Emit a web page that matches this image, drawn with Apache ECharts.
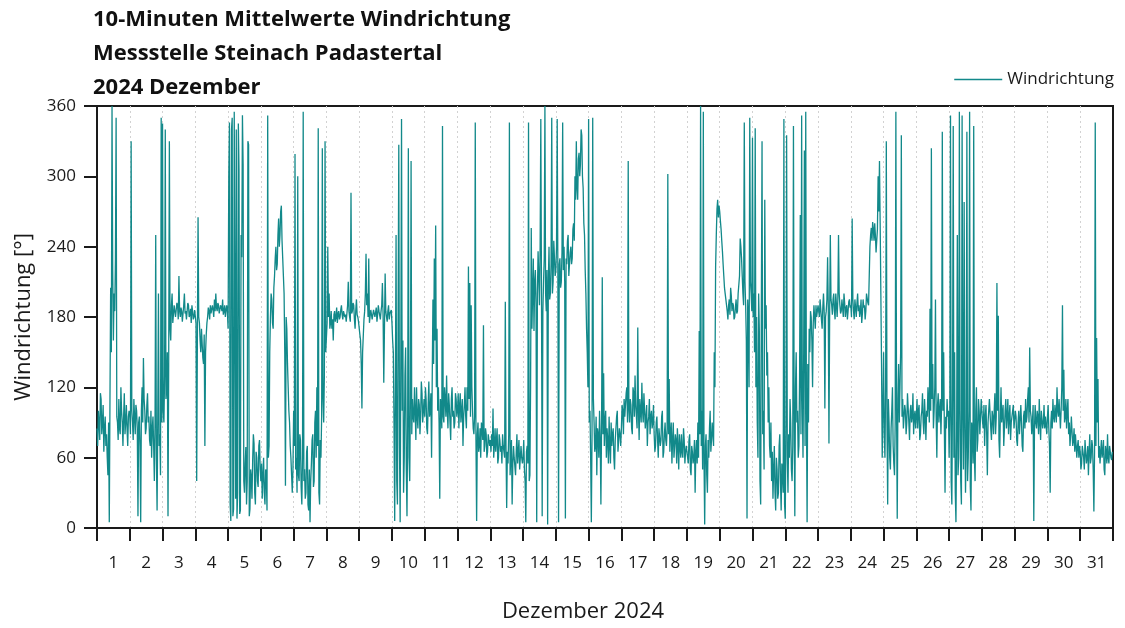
<!DOCTYPE html>
<html>
<head>
<meta charset="utf-8">
<script src="https://cdn.jsdelivr.net/npm/echarts@6/dist/echarts.min.js"></script>
<style>
  html, body { margin: 0; padding: 0; background: #fff; }
  #chart { width: 1125px; height: 628px; }
</style>
</head>
<body>
<div id="chart"></div>
<script>
// Tagesbeschriftungen der x-Achse
const dayLabels = ['1', '2', '3', '4', '5', '6', '7', '8', '9', '10', '11', '12', '13', '14', '15', '16',
  '17', '18', '19', '20', '21', '22', '23', '24', '25', '26', '27', '28', '29', '30', '31']
const yTicks = [0, 60, 120, 180, 240, 300, 360]

// Windrichtung [°], halbstündlich (je Tag 48 Werte)
const dec01 = [85, 70, 100, 90, 75, 115, 110, 80, 90, 105, 65, 85, 95, 70, 80, 60, 45, 90, 5, 110, 205, 150, 360, 220, 160, 200, 185, 230, 350, 95, 90, 75, 110, 85, 80, 120, 100, 90, 70, 95, 115, 80, 90, 105, 85, 70, 95, 100]
const dec02 = [95, 80, 330, 100, 90, 75, 110, 95, 80, 105, 100, 85, 10, 90, 95, 70, 5, 100, 120, 90, 145, 110, 100, 80, 85, 105, 115, 90, 95, 75, 70, 100, 60, 85, 95, 70, 40, 90, 250, 60, 15, 95, 200, 70, 80, 45, 350, 90]
const dec03 = [345, 100, 90, 130, 340, 110, 120, 150, 10, 140, 330, 170, 160, 190, 200, 175, 175, 190, 185, 180, 180, 192, 190, 178, 215, 185, 180, 188, 185, 176, 175, 190, 200, 183, 185, 178, 178, 192, 190, 180, 182, 187, 175, 190, 185, 178, 180, 186]
const dec04 = [185, 175, 40, 160, 265, 180, 175, 160, 150, 170, 170, 145, 140, 165, 70, 150, 165, 175, 180, 188, 185, 178, 190, 183, 182, 190, 186, 180, 195, 185, 200, 188, 185, 192, 190, 183, 183, 190, 188, 185, 195, 182, 185, 190, 180, 186, 190, 184]
const dec05 = [170, 300, 346, 20, 6, 340, 350, 10, 16, 355, 355, 25, 340, 8, 30, 345, 305, 12, 15, 250, 231, 352, 310, 40, 30, 55, 69, 20, 40, 330, 327, 10, 16, 50, 44, 25, 58, 80, 72, 30, 20, 65, 60, 40, 35, 70, 75, 50]
const dec06 = [40, 55, 25, 45, 60, 30, 20, 50, 45, 15, 352, 60, 70, 150, 180, 200, 195, 175, 170, 205, 215, 230, 240, 220, 225, 250, 264, 240, 250, 270, 275, 245, 230, 215, 200, 150, 36, 180, 170, 140, 120, 100, 90, 70, 60, 45, 30, 50]
const dec07 = [100, 70, 319, 50, 60, 30, 300, 45, 40, 80, 75, 35, 20, 60, 355, 40, 50, 25, 30, 65, 70, 20, 15, 50, 5, 40, 55, 75, 80, 35, 40, 90, 100, 60, 120, 70, 341, 30, 20, 75, 60, 95, 324, 110, 90, 130, 330, 150]
const dec08 = [150, 175, 240, 180, 200, 170, 175, 185, 170, 178, 160, 182, 185, 176, 180, 188, 175, 183, 185, 178, 180, 186, 190, 182, 178, 185, 186, 180, 182, 176, 175, 190, 210, 185, 180, 176, 286, 183, 185, 192, 190, 178, 170, 186, 195, 182, 180, 176]
const dec09 = [175, 165, 160, 140, 102, 150, 150, 178, 185, 200, 234, 190, 200, 180, 230, 175, 175, 186, 182, 178, 178, 186, 185, 180, 180, 188, 176, 182, 190, 185, 184, 178, 185, 190, 209, 182, 124, 170, 217, 185, 180, 176, 185, 190, 178, 183, 182, 186]
const dec10 = [175, 160, 150, 90, 6, 120, 250, 40, 20, 180, 327, 70, 5, 150, 349, 100, 160, 30, 60, 130, 154, 50, 10, 90, 324, 60, 40, 110, 313, 80, 110, 95, 90, 120, 100, 75, 120, 95, 85, 110, 105, 80, 95, 125, 115, 90, 100, 110]
const dec11 = [95, 120, 110, 85, 80, 105, 125, 95, 100, 115, 60, 130, 195, 140, 230, 160, 258, 120, 170, 100, 120, 90, 25, 110, 100, 85, 343, 95, 90, 120, 110, 95, 130, 100, 85, 115, 105, 90, 75, 110, 120, 95, 100, 85, 90, 115, 110, 95]
const dec12 = [100, 115, 85, 105, 115, 90, 90, 110, 70, 95, 105, 120, 95, 85, 120, 100, 223, 110, 209, 95, 190, 120, 100, 85, 80, 95, 346, 75, 6, 80, 90, 65, 70, 85, 60, 90, 85, 75, 173, 65, 70, 85, 80, 60, 65, 80, 75, 70]
const dec13 = [75, 65, 80, 70, 102, 60, 70, 85, 65, 75, 85, 55, 60, 80, 75, 65, 70, 55, 80, 70, 65, 60, 193, 70, 17, 65, 55, 80, 346, 45, 60, 75, 20, 55, 70, 60, 60, 45, 65, 80, 55, 65, 75, 50, 50, 70, 60, 55]
const dec14 = [60, 75, 50, 40, 5, 65, 70, 55, 346, 40, 45, 120, 256, 170, 200, 230, 168, 210, 220, 190, 5, 200, 236, 215, 190, 240, 349, 200, 10, 185, 210, 230, 360, 200, 185, 220, 3, 210, 240, 195, 200, 225, 350, 200, 210, 245, 230, 215]
const dec15 = [220, 240, 349, 215, 5, 225, 230, 205, 210, 235, 346, 220, 240, 210, 8, 230, 225, 245, 250, 215, 215, 235, 240, 225, 230, 255, 260, 245, 300, 280, 330, 290, 280, 315, 320, 300, 310, 340, 335, 300, 290, 260, 250, 220, 200, 170, 150, 120]
const dec16 = [349, 90, 100, 60, 5, 80, 350, 110, 90, 65, 70, 95, 45, 85, 80, 60, 100, 75, 20, 90, 214, 80, 132, 70, 90, 100, 60, 85, 75, 55, 95, 70, 55, 90, 70, 80, 85, 60, 50, 75, 75, 95, 100, 65, 65, 85, 80, 70]
const dec17 = [85, 105, 100, 80, 110, 95, 95, 115, 120, 90, 313, 100, 90, 110, 105, 85, 80, 120, 115, 95, 130, 105, 95, 85, 171, 100, 75, 110, 110, 90, 124, 100, 90, 115, 100, 85, 85, 105, 70, 90, 95, 110, 80, 95, 100, 85, 90, 105]
const dec18 = [80, 65, 70, 90, 95, 75, 60, 85, 85, 70, 75, 95, 100, 60, 65, 80, 90, 75, 70, 85, 302, 80, 127, 65, 80, 90, 55, 75, 90, 60, 60, 80, 75, 55, 85, 70, 50, 80, 70, 60, 80, 65, 60, 85, 75, 55, 65, 70]
const dec19 = [70, 60, 55, 75, 80, 50, 45, 70, 65, 55, 60, 75, 30, 65, 75, 55, 90, 60, 168, 80, 360, 70, 100, 50, 355, 60, 3, 70, 80, 45, 30, 75, 60, 85, 100, 65, 75, 90, 90, 70, 150, 120, 223, 250, 272, 280, 265, 275]
const dec20 = [270, 262, 255, 245, 236, 225, 215, 205, 200, 195, 190, 185, 178, 190, 195, 182, 205, 198, 185, 192, 190, 178, 180, 188, 195, 183, 185, 200, 200, 215, 247, 240, 230, 215, 200, 190, 346, 210, 190, 160, 8, 195, 180, 120, 350, 210, 200, 185]
const dec21 = [333, 180, 200, 150, 341, 120, 180, 90, 60, 200, 170, 40, 20, 190, 330, 80, 100, 50, 280, 170, 190, 130, 150, 90, 120, 70, 60, 90, 40, 65, 25, 50, 70, 30, 15, 60, 50, 25, 30, 70, 80, 40, 15, 55, 45, 30, 349, 20]
const dec22 = [8, 90, 335, 60, 30, 80, 60, 110, 90, 50, 40, 70, 343, 100, 10, 120, 150, 90, 100, 60, 70, 130, 267, 80, 352, 110, 60, 150, 322, 70, 355, 100, 5, 140, 90, 170, 150, 185, 180, 160, 120, 175, 190, 180, 170, 190, 180, 185]
const dec23 = [190, 185, 180, 195, 195, 178, 170, 188, 200, 185, 102, 180, 185, 195, 231, 190, 72, 180, 250, 195, 190, 182, 195, 200, 185, 178, 200, 190, 180, 195, 250, 200, 190, 183, 185, 195, 195, 180, 200, 192, 180, 188, 190, 178, 185, 193, 195, 188]
const dec24 = [190, 180, 264, 195, 185, 178, 195, 188, 180, 192, 200, 185, 190, 180, 185, 195, 175, 183, 195, 188, 190, 178, 185, 200, 200, 192, 190, 215, 240, 250, 256, 245, 261, 255, 245, 260, 250, 235, 236, 255, 300, 270, 313, 260, 200, 140, 60, 100]
const dec25 = [150, 80, 60, 120, 330, 90, 20, 110, 90, 60, 50, 85, 100, 120, 70, 55, 45, 90, 355, 100, 8, 110, 140, 90, 120, 150, 335, 95, 110, 85, 85, 105, 100, 80, 90, 115, 115, 90, 75, 100, 105, 90, 95, 115, 80, 95, 100, 85]
const dec26 = [95, 110, 85, 100, 105, 75, 80, 95, 100, 115, 90, 80, 110, 95, 75, 100, 95, 120, 120, 90, 187, 100, 324, 110, 140, 85, 100, 120, 195, 95, 60, 105, 115, 90, 90, 110, 80, 105, 338, 100, 150, 85, 30, 95, 85, 110, 95, 100]
const dec27 = [60, 100, 352, 40, 20, 120, 343, 60, 150, 30, 5, 80, 250, 45, 60, 355, 100, 40, 20, 352, 100, 50, 278, 90, 30, 70, 338, 40, 60, 100, 355, 35, 15, 90, 80, 55, 343, 60, 40, 100, 120, 65, 75, 110, 100, 80, 95, 110]
const dec28 = [100, 90, 85, 105, 70, 95, 105, 80, 45, 90, 90, 110, 110, 85, 75, 100, 95, 80, 100, 115, 80, 95, 209, 100, 181, 75, 60, 95, 120, 90, 90, 105, 70, 85, 100, 110, 85, 95, 110, 80, 95, 105, 75, 90, 90, 100, 105, 85]
const dec29 = [85, 100, 95, 75, 70, 90, 100, 80, 80, 105, 90, 70, 65, 95, 100, 85, 110, 90, 95, 110, 120, 90, 154, 100, 95, 80, 90, 105, 6, 85, 105, 90, 85, 100, 95, 80, 110, 90, 75, 100, 100, 85, 90, 105, 85, 95, 95, 80]
const dec30 = [95, 105, 85, 70, 30, 90, 100, 85, 110, 95, 90, 105, 105, 90, 120, 100, 95, 110, 110, 85, 100, 120, 190, 100, 135, 90, 95, 110, 85, 100, 110, 80, 90, 70, 80, 95, 95, 70, 75, 85, 65, 80, 80, 60, 70, 75, 60, 70]
const dec31 = [65, 50, 55, 70, 70, 60, 50, 75, 75, 55, 60, 70, 45, 65, 80, 55, 60, 75, 70, 50, 14, 65, 346, 70, 162, 90, 127, 60, 70, 55, 55, 75, 60, 65, 75, 50, 45, 70, 65, 55, 80, 60, 55, 70, 70, 60, 58, 65]

const days = [dec01, dec02, dec03, dec04, dec05, dec06, dec07, dec08, dec09, dec10, dec11, dec12, dec13, dec14, dec15, dec16,
  dec17, dec18, dec19, dec20, dec21, dec22, dec23, dec24, dec25, dec26, dec27, dec28, dec29, dec30, dec31]

// x = Tag (0 = 1. Dezember 00:00), gleichmäßig über den Tag verteilt
const seriesData = []
days.forEach((vals, d) => {
  vals.forEach((v, j) => seriesData.push([d + j / vals.length, v]))
})

const font = 'Open Sans'
const ink = '#1a1a1a'
const teal = '#12898a'
const chart = echarts.init(document.getElementById('chart'))

chart.setOption({
  animation: false,
  textStyle: { fontFamily: font },
  title: {
    text: '10-Minuten Mittelwerte Windrichtung\nMessstelle Steinach Padastertal\n2024 Dezember',
    left: 88,
    top: -2,
    textStyle: { fontSize: 22, fontWeight: 'bold', color: '#111', lineHeight: 34, fontFamily: font }
  },
  legend: {
    data: ['Windrichtung'],
    right: 6,
    top: 66,
    icon: 'rect',
    itemWidth: 48,
    itemHeight: 1.5,
    itemGap: 8,
    textStyle: { fontSize: 17, color: ink, fontFamily: font }
  },
  grid: {
    left: 97,
    right: 12,
    top: 106,
    bottom: 91,
    show: true,
    borderColor: ink,
    borderWidth: 2
  },
  xAxis: [
    {
      type: 'value',
      min: 0,
      max: days.length,
      interval: 1,
      axisLine: { show: true, lineStyle: { color: ink, width: 2 } },
      axisTick: { show: true, inside: false, length: 13, lineStyle: { color: ink, width: 2 } },
      axisLabel: { show: false },
      splitLine: {
        show: true,
        showMinLine: false,
        showMaxLine: false,
        lineStyle: { color: '#d2d2d2', type: [2, 3], width: 1 }
      }
    },
    {
      type: 'category',
      data: dayLabels,
      boundaryGap: true,
      position: 'bottom',
      axisLine: { show: false },
      axisTick: { show: false },
      axisLabel: { margin: 27, fontSize: 17, color: ink, fontFamily: font, interval: 0 },
      name: 'Dezember 2024',
      nameLocation: 'middle',
      nameGap: 73,
      nameTextStyle: { fontSize: 22, color: ink, fontFamily: font, padding: [0, 44, 0, 0] }
    }
  ],
  yAxis: {
    type: 'value',
    min: yTicks[0],
    max: yTicks[yTicks.length - 1],
    interval: 60,
    axisLine: { show: true, lineStyle: { color: ink, width: 2 } },
    axisTick: { show: true, inside: false, length: 13, lineStyle: { color: ink, width: 2 } },
    axisLabel: { margin: 21, fontSize: 17, color: ink, fontFamily: font },
    splitLine: { show: false },
    name: 'Windrichtung [°]',
    nameLocation: 'middle',
    nameGap: 62,
    nameRotate: 90,
    nameTextStyle: { fontSize: 22, color: ink, fontFamily: font }
  },
  series: [
    {
      name: 'Windrichtung',
      type: 'line',
      xAxisIndex: 0,
      data: seriesData,
      showSymbol: false,
      color: teal,
      lineStyle: { width: 1.3, color: teal }
    }
  ]
})
</script>
</body>
</html>
